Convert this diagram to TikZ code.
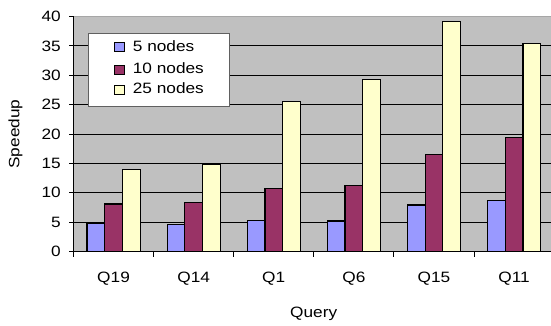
\documentclass[tikz,border=0pt]{standalone}
\usepackage{fontspec}
\setmainfont{Liberation Sans}[FakeStretch=1.15]
\definecolor{plotgray}{HTML}{C0C0C0}
\definecolor{sfive}{HTML}{9999FF}
\definecolor{sten}{HTML}{993366}
\definecolor{stwentyfive}{HTML}{FFFFCC}
\definecolor{legframe}{HTML}{606060}
\tikzset{
  lbl/.style={inner sep=0pt, font=\fontsize{15}{18}\selectfont},
  barbox/.style={draw=black, line width=1.2pt},
  gridline/.style={draw=black, line width=0.8pt},
  axisline/.style={draw=black, line width=0.9pt},
  legsq/.style={draw=black, line width=0.7pt},
}
\begin{document}
\begin{tikzpicture}[x=1pt, y=-1pt]
\useasboundingbox (0,0) rectangle (551,326);
\begin{scope}
\clip (0,0) rectangle (551,326);
% plot area
\fill[plotgray] (73.5,16.5) rectangle (560,251.5);
\draw[gray!70, line width=0.8pt] (73.5,16.5) -- (560,16.5);
\foreach \v in {5,10,...,35} {
  \draw[gridline] (73.5,{251.5-\v*5.875}) -- (560,{251.5-\v*5.875});
}
% bars
\foreach \i/\a/\b/\c in {0/4.7/8.1/13.9, 1/4.6/8.4/14.8, 2/5.3/10.7/25.5, 3/5.2/11.3/29.3, 4/7.9/16.5/39.1, 5/8.7/19.4/35.4} {
  \pgfmathsetmacro{\L}{73.5+\i*80.1+13.5}
  \draw[barbox, fill=sfive] (\L,251.5) rectangle ({\L+17.7},{251.5-\a*5.875});
  \draw[barbox, fill=sten] ({\L+17.7},251.5) rectangle ({\L+35.4},{251.5-\b*5.875});
  \draw[barbox, fill=stwentyfive] ({\L+35.4},251.5) rectangle ({\L+53.1},{251.5-\c*5.875});
}
% axes
\draw[axisline] (73.5,16.5) -- (73.5,251.5) -- (560,251.5);
\foreach \v in {0,5,...,40} {
  \draw[axisline] (69,{251.5-\v*5.875}) -- (73.5,{251.5-\v*5.875});
}
\foreach \i in {0,...,6} {
  \draw[axisline] ({73.5+\i*80.1},251.5) -- ({73.5+\i*80.1},256.5);
}
\end{scope}
% y labels
\foreach \v in {0,5,...,40} {
  \node[lbl, anchor=base east] (ylab\v) at (61,{251.5-\v*5.875+5.2}) {\v};
}
% category labels
\foreach \i/\q in {0/Q19, 1/Q14, 2/Q1, 3/Q6, 4/Q15, 5/Q11} {
  \node[lbl, anchor=base] (cat\i) at ({73.5+\i*80.1+40.05},282.5) {\q};
}
\node[lbl, anchor=base] (xtitle) at (313.7,317.5) {Query};
\node[lbl, anchor=base, rotate=90] (ytitle) at (19.5,134) {Speedup};
% legend
\draw[draw=legframe, fill=white, line width=0.8pt] (88.5,33.5) rectangle (229,106.5);
\draw[legsq, fill=sfive] (114.5,42.7) rectangle (124.5,51.7);
\draw[legsq, fill=sten] (114.5,65) rectangle (124.5,74.3);
\draw[legsq, fill=stwentyfive] (114.5,85) rectangle (124.5,94.3);
\node[lbl, anchor=base west] (leg1) at (132.7,51.7) {5 nodes};
\node[lbl, anchor=base west] (leg2) at (132.7,73.3) {10 nodes};
\node[lbl, anchor=base west] (leg3) at (132.7,94) {25 nodes};
\end{tikzpicture}
\end{document}
